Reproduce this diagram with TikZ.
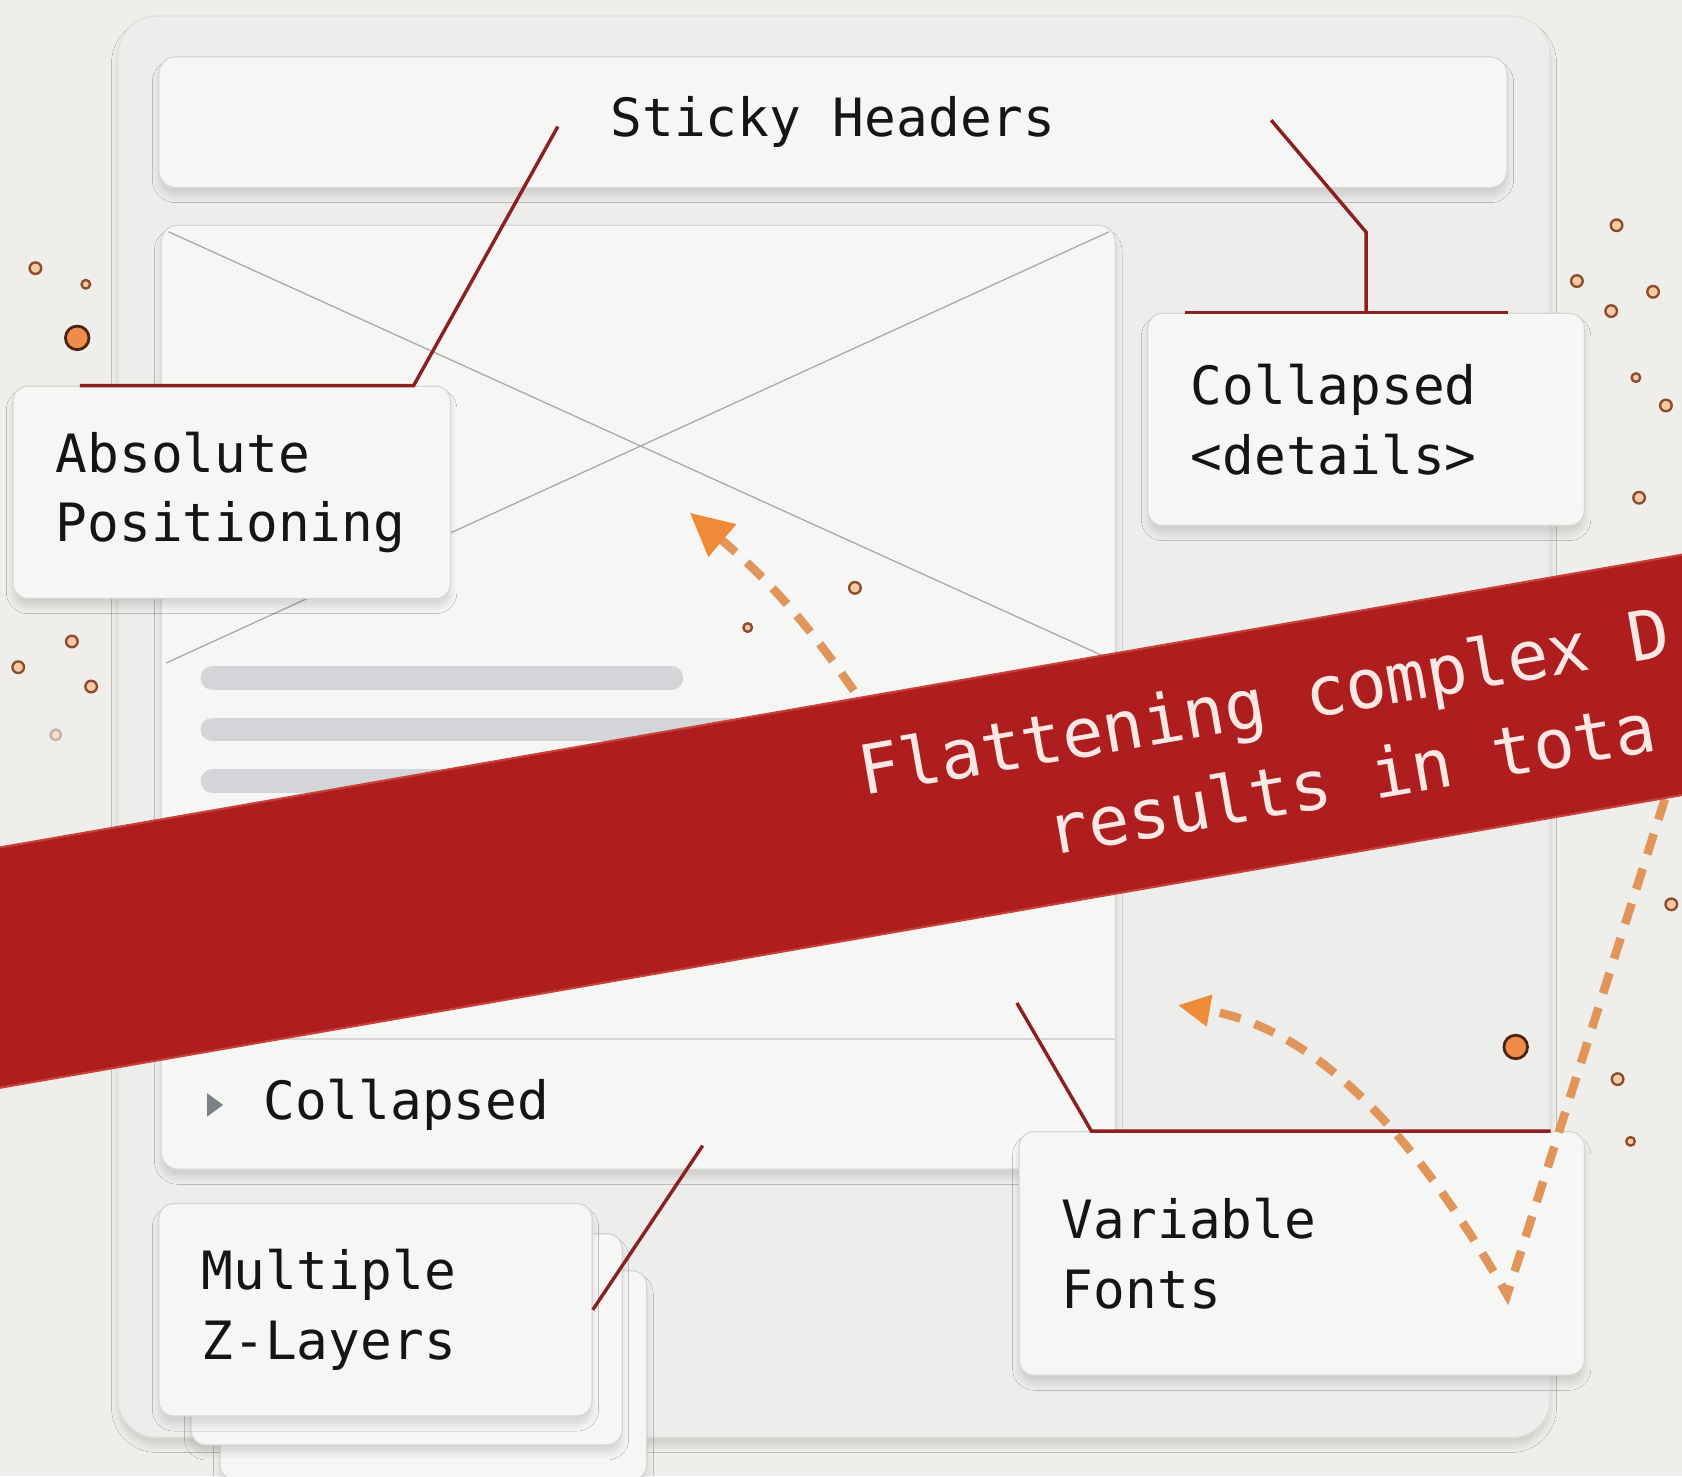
\documentclass[tikz,border=0pt]{standalone}
\usepackage{fontspec}
\setmonofont{DejaVu Sans Mono}
\usetikzlibrary{arrows.meta, positioning, calc, shadows.blur, shapes.geometric}
\definecolor{paper}{HTML}{EFEEEA}
\definecolor{framefill}{HTML}{EDEDEB}
\definecolor{frameedge}{HTML}{E0E0DE}
\definecolor{cardfill}{HTML}{F6F6F5}
\definecolor{cardedge}{HTML}{D6D6D4}
\definecolor{xgrey}{HTML}{A9A9A9}
\definecolor{bargrey}{HTML}{D3D5D8}
\definecolor{caretgrey}{HTML}{7C8186}
\definecolor{inkblack}{HTML}{151515}
\definecolor{leaderred}{HTML}{8C2020}
\definecolor{bannerred}{HTML}{AE1E1E}
\definecolor{banneredge}{HTML}{C8403A}
\definecolor{bannerink}{HTML}{FBE7E3}
\definecolor{flowor}{HTML}{E0965A}
\definecolor{heador}{HTML}{EE8A38}
\definecolor{speckedge}{HTML}{8E4C2A}
\definecolor{speckfill}{HTML}{F3CBA6}
\definecolor{bigedge}{HTML}{4A2412}
\definecolor{bigfill}{HTML}{EE8C4C}
\newcommand{\labelfont}{\ttfamily\fontsize{24.6}{32.5}\selectfont}
\newcommand{\bannerfont}{\ttfamily\fontsize{31.8}{43}\selectfont}
\tikzset{
  panel/.style={rectangle, draw=cardedge, fill=cardfill, line width=0.6pt,
                rounded corners=8pt,
                blur shadow={shadow xshift=0pt, shadow yshift=-4pt,
                             shadow blur radius=3pt, shadow opacity=12}},
  labelbox/.style={panel, rounded corners=7pt, align=left, inner xsep=20pt,
                   inner ysep=6pt, font=\labelfont, text=inkblack},
  zcard/.style={panel, rounded corners=7pt},
  leader/.style={draw=leaderred, line width=1.6pt, line join=miter},
  flow/.style={draw=flowor, line width=4pt, dash pattern=on 10pt off 7pt,
               -{Triangle[length=20pt, width=19pt, color=heador]}},
  xline/.style={draw=xgrey, line width=0.6pt},
  textbar/.style={draw=bargrey, line width=11pt, line cap=round},
  sepline/.style={draw=cardedge, line width=0.8pt},
  speck/.style={draw=speckedge, fill=speckfill, line width=1.1pt},
  bigspeck/.style={draw=bigedge, fill=bigfill, line width=1.3pt},
  banner/.style={fill=bannerred, draw=banneredge, line width=1pt},
  bannershade/.style={fill=black, opacity=0.07},
  bannertext/.style={rotate=9.87, font=\bannerfont, text=bannerink, inner sep=0pt},
}
\begin{document}
\begin{tikzpicture}[x=0.5pt, y=-0.5pt]
  \useasboundingbox (0,0) rectangle (1568,1376);
  \clip (0,0) rectangle (1568,1376);
  \fill[paper] (0,0) rectangle (1568,1376);

  % browser window frame
  \node[panel, fill=framefill, draw=frameedge, rounded corners=18pt,
        minimum width=667.5pt, minimum height=662.5pt] (frame) at (777.5,677.5) {};

  % sticky header bar
  \node[panel, minimum width=628.5pt, minimum height=61pt, font=\labelfont,
        text=inkblack] (hdr) at (776.5,114) {Sticky Headers};

  % content card: image placeholder, text lines, collapsed row
  \node[panel, minimum width=445pt, minimum height=440pt] (cnt) at (595,650) {};
  \coordinate (imgnw) at (157,216);
  \coordinate (imgne) at (1034,216);
  \coordinate (imgsw) at (155,618);
  \coordinate (imgse) at (1034,614);
  \draw[xline] (imgnw) -- (imgse);
  \draw[xline] (imgne) -- (imgsw);
  \foreach \y/\len in {632/626, 680/680, 728/560}
    \draw[textbar] (198,\y) -- (\len,\y);
  \draw[sepline] ([yshift=61pt]cnt.south west) -- ([yshift=61pt]cnt.south east);
  \fill[caretgrey] (193,1019) -- (208,1030) -- (193,1041) -- cycle;
  \node[anchor=west, font=\labelfont, text=inkblack, inner sep=0pt] (rowlbl)
       at (245,1030) {Collapsed};

  % callout cards
  \node[labelbox, text width=164pt, minimum height=99pt] (abs) at (216,459)
       {Absolute\\Positioning};
  \node[labelbox, text width=163.5pt, minimum height=99pt] (det) at (1273.5,391)
       {Collapsed\\<details>};
  \node[zcard, minimum width=199pt, minimum height=97.5pt] (zl2) at (404,1282) {};
  \node[zcard, minimum width=201pt, minimum height=98.5pt] (zl1) at (379,1248.5) {};
  \node[labelbox, text width=162pt, minimum height=99pt] (zl) at (350,1221)
       {Multiple\\Z-Layers};
  \node[labelbox, text width=223.5pt, minimum height=113.5pt] (vf) at (1213.5,1168.5)
       {Variable\\Fonts};

  % leader lines
  \coordinate (tipabs) at (520,118);
  \coordinate (tipdet) at (1185,112);
  \coordinate (tiprow) at (655,1068);
  \coordinate (tipvf) at (948,935);
  \draw[leader] (tipabs) -- ([xshift=-17.5pt]abs.north east)
                -- ([xshift=31.5pt]abs.north west);
  \draw[leader] (tipdet) -- ([yshift=37.5pt]det.north) -- (det.north);
  \draw[leader] ([xshift=17.5pt]det.north west) -- ([xshift=-36pt]det.north east);
  \draw[leader] (zl.east) -- (tiprow);
  \draw[leader] (tipvf) -- ([xshift=34pt]vf.north west)
                -- ([xshift=-16pt]vf.north east);

  % scattered specks
  \foreach \x/\y in {33/250, 67/598, 17/622, 85/640, 797/548, 1507/210,
                     1470/262, 1541/272, 1502/290, 1553/378, 1528/464,
                     1558/843, 1508/1006}
    \filldraw[speck] (\x,\y) circle[radius=2.7pt];
  \foreach \x/\y in {80/265, 697/585, 1525/352, 1520/1064}
    \filldraw[speck] (\x,\y) circle[radius=2pt];
  \filldraw[speck, opacity=0.35] (52,685) circle[radius=2.5pt];
  \filldraw[bigspeck] (72,315) circle[radius=5.5pt];
  \filldraw[bigspeck] (1413,976) circle[radius=5.5pt];

  % dashed flow arrows
  \coordinate (tailA) at (815,672);
  \coordinate (headA) at (643,478);
  \coordinate (tailB) at (1552,745);
  \coordinate (vtip) at (1405,1207);
  \coordinate (headB) at (1098,937);
  \draw[flow] (tailA) to[bend right=8] (headA);
  \draw[flow, -{Triangle[length=15pt, width=14pt, color=heador]}]
       (tailB) -- (vtip) .. controls (1320,1060) and (1230,960) .. (headB);

  % warning banner
  \coordinate (bnw) at (-20,793.5);
  \coordinate (bne) at (1590,513.3);
  \coordinate (bse) at (1590,737.3);
  \coordinate (bsw) at (-20,1017.5);
  \path[bannershade, yshift=-5pt] (bnw) -- (bne) -- (bse) -- (bsw) -- cycle;
  \path[banner] (bnw) -- (bne) -- (bse) -- (bsw) -- cycle;
  \node[bannertext, anchor=base west] (msg1) at (805,742) {Flattening complex D};
  \node[bannertext, anchor=base west] (msg2) at (980,798) {results in tota};
\end{tikzpicture}
\end{document}
